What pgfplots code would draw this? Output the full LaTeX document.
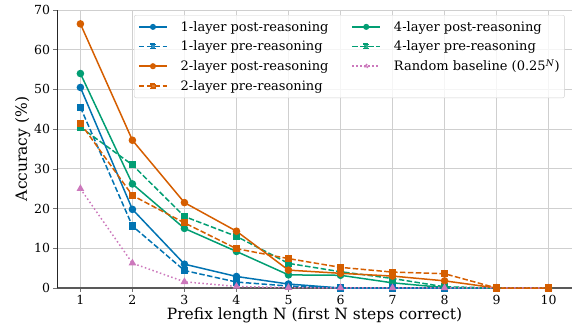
\documentclass[border=0pt]{standalone}
\usepackage{pgfplots}
\pgfplotsset{compat=1.18}
\usepackage{fontspec}
\setmainfont{DejaVu Serif}
\definecolor{cblue}{HTML}{0173B2}
\definecolor{corange}{HTML}{D55E00}
\definecolor{cgreen}{HTML}{029E73}
\definecolor{cpink}{HTML}{CC78BC}
\definecolor{gridc}{HTML}{CFCFCF}
\begin{document}
\begin{tikzpicture}[x=1pt,y=1pt]
\begin{axis}[
  at={(0,0)}, anchor=origin,
  scale only axis, width=515pt, height=278pt,
  xmin=0.55, xmax=10.45, ymin=0, ymax=70,
  xtick={1,...,10}, ytick={0,10,...,70},
  axis lines*=left,
  x axis line style={draw=black!65, line width=1.4pt},
  y axis line style={draw=black!85, line width=0.8pt},
  grid=major,
  major grid style={draw=gridc, line width=0.8pt},
  tick style={draw=black!55, line width=0.7pt},
  major tick length=3.5pt, tick align=outside,
  ticklabel style={font=\fontsize{12.5}{14}\selectfont},
  /pgf/number format/assume math mode=true,
  xlabel={Prefix length N (first N steps correct)},
  ylabel={Accuracy (\%)},
  label style={font=\fontsize{15.5}{17}\selectfont},
  xlabel style={yshift=4pt},
  ylabel style={yshift=-3pt},
  legend columns=2,
  legend cell align=left,
  legend style={at={(0.986,0.982)}, anchor=north east,
    draw=black!18, rounded corners=2pt, fill=white, fill opacity=0.8, text opacity=1,
    font=\fontsize{13}{14}\selectfont, row sep=6pt, inner xsep=4pt, inner ysep=5pt,
    nodes={inner sep=1pt},
    /tikz/every odd column/.append style={column sep=12pt},
    /tikz/every even column/.append style={column sep=22pt}},
  legend image code/.code={
    \draw[mark repeat=2,mark phase=2,#1,mark options={scale=0.75}] plot coordinates {(0pt,0pt) (14pt,0pt) (28pt,0pt)};},
  every axis plot/.append style={line width=1.5pt},
]
\addplot[cblue, solid, mark=*, mark size=3pt, mark options={solid}] coordinates {
 (1,50.5) (2,19.8) (3,6.0) (4,2.9) (5,1.0) (6,0) (7,0) (8,0) (9,0) (10,0)};
\addlegendentry{1-layer post-reasoning}
\addplot[cgreen, solid, mark=*, mark size=3pt, mark options={solid}] coordinates {
 (1,54.0) (2,26.2) (3,15.0) (4,9.2) (5,3.3) (6,3.2) (7,1.3) (8,0.1) (9,0) (10,0)};
\addlegendentry{4-layer post-reasoning}
\addplot[cblue, dash pattern=on 5.5pt off 2.4pt, mark=square*, mark size=2.8pt, mark options={solid}] coordinates {
 (1,45.5) (2,15.6) (3,4.4) (4,1.5) (5,0.5) (6,0) (7,0) (8,0) (9,0) (10,0)};
\addlegendentry{1-layer pre-reasoning}
\addplot[cgreen, dash pattern=on 5.5pt off 2.4pt, mark=square*, mark size=2.8pt, mark options={solid}] coordinates {
 (1,40.5) (2,31.0) (3,18.0) (4,13.0) (5,6.2) (6,4.1) (7,2.4) (8,0.3) (9,0) (10,0)};
\addlegendentry{4-layer pre-reasoning}
\addplot[corange, solid, mark=*, mark size=3pt, mark options={solid}] coordinates {
 (1,66.5) (2,37.2) (3,21.5) (4,14.3) (5,4.5) (6,3.7) (7,3.0) (8,1.8) (9,0) (10,0)};
\addlegendentry{2-layer post-reasoning}
\addplot[cpink, dash pattern=on 1.5pt off 2.5pt, mark=triangle*, mark size=3pt, mark options={solid}] coordinates {
 (1,25) (2,6.25) (3,1.5625) (4,0.390625) (5,0.0977) (6,0.0244) (7,0.0061) (8,0.0015) (9,0.0004) (10,0.0001)};
\addlegendentry{Random baseline (0.25\textsuperscript{\textit{N}})}
\addplot[corange, dash pattern=on 5.5pt off 2.4pt, mark=square*, mark size=2.8pt, mark options={solid}] coordinates {
 (1,41.5) (2,23.3) (3,16.4) (4,9.9) (5,7.4) (6,5.2) (7,4.0) (8,3.6) (9,0) (10,0)};
\addlegendentry{2-layer pre-reasoning}
\end{axis}
\pgfresetboundingbox
\path[use as bounding box] (-57pt,-41pt) rectangle (515pt,288pt);
\end{tikzpicture}
\end{document}
